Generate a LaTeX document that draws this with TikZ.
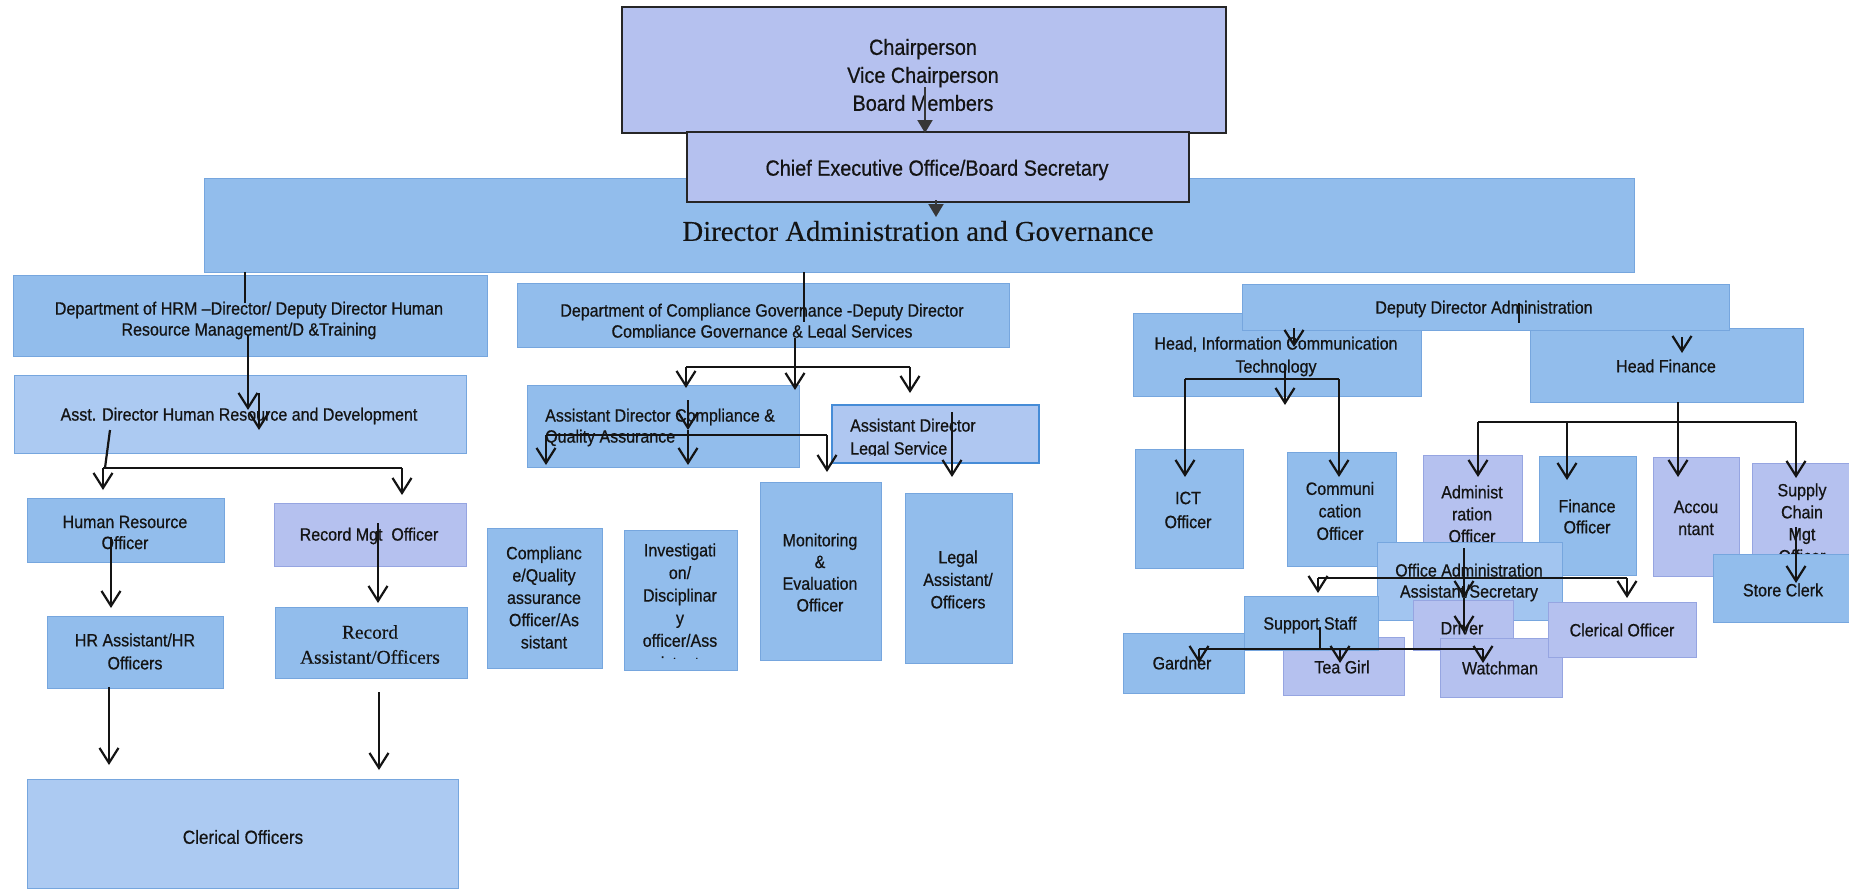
\documentclass[tikz,border=0pt]{standalone}
\usepackage{fontspec}
\setmainfont{Liberation Sans}[FakeStretch=0.9,FakeBold=0.6]
\newfontfamily\seriffont{Liberation Serif}[FakeBold=0.3]
\usetikzlibrary{arrows.meta}
\definecolor{sky}{RGB}{146,189,236}
\definecolor{skyedge}{RGB}{118,166,222}
\definecolor{lav}{RGB}{181,193,239}
\definecolor{lavedge}{RGB}{150,165,225}
\definecolor{pale}{RGB}{172,202,242}
\definecolor{ink}{RGB}{20,20,20}
\definecolor{legaledge}{RGB}{70,140,215}
\newcommand\bx[6]{\node[#6,minimum width={#4-#2},minimum height={#5-#3}] (#1) at ({(#2+#4)/2},{(#3+#5)/2}) {};}
\begin{document}
\begin{tikzpicture}[x=1pt,y=-1pt,
  box/.style={rectangle,draw=skyedge,fill=sky,line width=1pt,inner sep=0pt,outer sep=0pt},
  lbox/.style={box,fill=lav,draw=lavedge},
  pbox/.style={box,fill=pale},
  obox/.style={box,fill=pale!60!sky},
  legal/.style={box,fill=pale!70!lav,draw=legaledge,line width=1.8pt},
  blk/.style={box,fill=lav,draw=black!85,line width=1.6pt},
  txt/.style={font=\fontsize{17.8}{#1}\selectfont,align=center,inner sep=0pt,text=ink},
  txt/.default=21,
  ltxt/.style={txt=#1,align=left,anchor=west},
  ltxt/.default=21,
  conn/.style={draw=ink,line width=2.2pt},
  arr/.style={conn,-{Straight Barb[length=15pt,width=19pt]}},
  tri/.style={draw=ink!85,line width=2pt,-{Triangle[length=13pt,width=15pt]}}]
\useasboundingbox (0,0) rectangle (1849,891);
\fill[white] (0,0) rectangle (1849,891);

% top
\bx{band}{204}{178}{1634}{272}{box}
\node[txt,font=\seriffont\fontsize{28.7}{34}\selectfont] (tband) at (918,231) {Director Administration and Governance};
\bx{board}{622}{7}{1226}{133}{blk}
\node[txt,font=\fontsize{22}{28}\selectfont] (tboard) at (923,75) {Chairperson\\Vice Chairperson\\Board Members};
\bx{ceo}{687}{132}{1189}{202}{blk}
\node[txt,font=\fontsize{22}{28}\selectfont] (tceo) at (937,170) {Chief Executive Office/Board Secretary};

% HR
\bx{hrm}{13}{275}{487}{356}{box}
\node[txt] (thrm) at (249,320.5) {Department of HRM –Director/ Deputy Director Human\\Resource Management/D \&Training};
\bx{adhr}{14}{375}{466}{453}{pbox}
\node[txt] (tadhr) at (239,416) {Asst. Director Human Resource and Development};
\bx{hro}{27}{498}{224}{562}{box}
\node[txt] (thro) at (125,532.5) {Human Resource\\Officer};
\bx{rmo}{274}{503}{466}{566}{lbox}
\node[txt] (trmo) at (369,536) {Record Mgt\ \ Officer};
\bx{hra}{47}{616}{223}{688}{box}
\node[txt=23] (thra) at (135,651.5) {HR Assistant/HR\\Officers};
\bx{rca}{275}{607}{467}{678}{box}
\node[txt,font=\seriffont\fontsize{19.4}{25}\selectfont] (trca) at (370,644.5) {Record\\Assistant/Officers};
\bx{clo}{27}{779}{458}{888}{pbox}
\node[txt,font=\fontsize{19}{22}\selectfont] (tclo) at (243,837) {Clerical Officers};

% Compliance
\bx{cmp}{517}{283}{1009}{347}{box}
\begin{scope}
\clip (517,283) rectangle (1009,337);
\node[txt] (tcmp) at (762,322.5) {Department of Compliance Governance -Deputy Director\\Compliance Governance \& Legal Services};
\end{scope}
\bx{adc}{527}{385}{799}{467}{box}
\node[ltxt] (tadc) at (545,427.5) {Assistant Director Compliance \&\\Quality Assurance};
\bx{adl}{832}{405}{1039}{463}{legal}
\begin{scope}
\clip (832,405) rectangle (1039,455);
\node[ltxt=23] (tadl) at (850,438.5) {Assistant Director\\Legal Service};
\end{scope}
\bx{cqo}{487}{528}{602}{668}{box}
\node[txt=22.3] (tcqo) at (544,597.5) {Complianc\\e/Quality\\assurance\\Officer/As\\sistant};
\bx{inv}{624}{530}{737}{670}{box}
\begin{scope}
\clip (624,530) rectangle (737,658);
\node[txt=22.6] (tinv) at (680,606.5) {Investigati\\on/\\Disciplinar\\y\\officer/Ass\\istant};
\end{scope}
\bx{mon}{760}{482}{881}{660}{box}
\node[txt=21.7] (tmon) at (820,572.5) {Monitoring\\\&\\Evaluation\\Officer};
\bx{lga}{905}{493}{1012}{663}{box}
\node[txt=22.5] (tlga) at (958,579.5) {Legal\\Assistant/\\Officers};

% Administration
\bx{hict}{1133}{313}{1421}{396}{box}
\node[txt=23] (thict) at (1276,356.5) {Head, Information Communication\\Technology};
\bx{hfin}{1530}{328}{1803}{402}{box}
\node[txt] (thfin) at (1666,366) {Head Finance};
\bx{dda}{1242}{284}{1729}{330}{box}
\node[txt] (tdda) at (1484,309) {Deputy Director Administration};
\bx{icto}{1135}{449}{1243}{568}{box}
\node[txt=24] (ticto) at (1188,510) {ICT\\Officer};
\bx{como}{1287}{452}{1396}{566}{box}
\node[txt=22.5] (tcomo) at (1340,511) {Communi\\cation\\Officer};
\bx{admo}{1423}{455}{1522}{560}{lbox}
\node[txt=22] (tadmo) at (1472,514) {Administ\\ration\\Officer};
\bx{fino}{1539}{456}{1636}{575}{box}
\node[txt] (tfino) at (1587,516.5) {Finance\\Officer};
\bx{acc}{1653}{457}{1739}{576}{lbox}
\node[txt=22] (tacc) at (1696,518) {Accou\\ntant};
\bx{scm}{1752}{463}{1849}{575}{lbox}
\node[txt=22] (tscm) at (1802,523) {Supply\\Chain\\Mgt\\Officer};
\bx{stc}{1713}{554}{1849}{622}{box}
\node[txt] (tstc) at (1783,590) {Store Clerk};
\bx{oaa}{1377}{542}{1562}{620}{obox}
\node[txt] (toaa) at (1469,582.5) {Office Administration\\Assistant/Secretary};
\bx{gar}{1123}{633}{1244}{693}{box}
\node[txt] (tgar) at (1182,663) {Gardner};
\bx{tea}{1283}{637}{1404}{695}{lbox}
\node[txt] (ttea) at (1342,667) {Tea Girl};
\bx{sup}{1244}{596}{1378}{650}{box}
\node[txt] (tsup) at (1310,625) {Support Staff};
\bx{drv}{1413}{600}{1513}{650}{lbox}
\node[txt] (tdrv) at (1462,628) {Driver};
\bx{wat}{1440}{638}{1562}{697}{lbox}
\node[txt] (twat) at (1500,668) {Watchman};
\bx{clk}{1548}{602}{1696}{657}{lbox}
\node[txt] (tclk) at (1622,630) {Clerical Officer};

% connectors: top
\draw[tri] (925,87) -- (925,133);
\draw[tri] (936,200) -- (936,217);
% HR
\draw[conn] (245,272) -- (245,303);
\draw[arr] (248,335) -- (248,410);
\draw[arr] (259,393) -- (259,430);
\draw[conn] (110,430) -- (105,468);
\draw[conn] (103,468) -- (402,468);
\draw[arr] (103,468) -- (103,490);
\draw[arr] (402,468) -- (402,495);
\draw[arr] (111,537) -- (111,608);
\draw[arr] (378,523) -- (378,603);
\draw[arr] (109,687) -- (109,765);
\draw[arr] (379,692) -- (379,770);
% Compliance
\draw[conn] (804,272) -- (804,322);
\draw[arr] (795,338) -- (795,390);
\draw[conn] (686,367) -- (910,367);
\draw[arr] (686,367) -- (686,388);
\draw[arr] (910,367) -- (910,393);
\draw[arr] (688,400) -- (688,430);
\draw[arr] (688,430) -- (688,465);
\draw[conn] (546,435) -- (827,435);
\draw[arr] (546,435) -- (546,465);
\draw[arr] (827,435) -- (827,472);
\draw[arr] (952,412) -- (952,477);
% Administration
\draw[conn] (1519,303) -- (1519,323);
\draw[arr] (1294,328) -- (1294,347);
\draw[arr] (1682,337) -- (1682,353);
\draw[arr] (1285,365) -- (1285,405);
\draw[conn] (1185,379) -- (1339,379);
\draw[arr] (1185,379) -- (1185,477);
\draw[arr] (1339,379) -- (1339,477);
\draw[arr] (1678,402) -- (1678,477);
\draw[conn] (1478,422) -- (1796,422);
\draw[arr] (1478,422) -- (1478,477);
\draw[arr] (1567,422) -- (1567,480);
\draw[arr] (1796,422) -- (1796,478);
\draw[arr] (1796,527) -- (1796,583);
\draw[arr] (1464,548) -- (1464,598);
\draw[arr] (1464,598) -- (1464,633);
\draw[conn] (1318,578) -- (1627,578);
\draw[arr] (1318,578) -- (1318,593);
\draw[arr] (1627,578) -- (1627,598);
\draw[conn] (1320,627) -- (1320,649);
\draw[conn] (1199,649) -- (1483,649);
\draw[arr] (1199,649) -- (1199,663);
\draw[arr] (1340,649) -- (1340,663);
\draw[arr] (1483,649) -- (1483,663);
\end{tikzpicture}
\end{document}
